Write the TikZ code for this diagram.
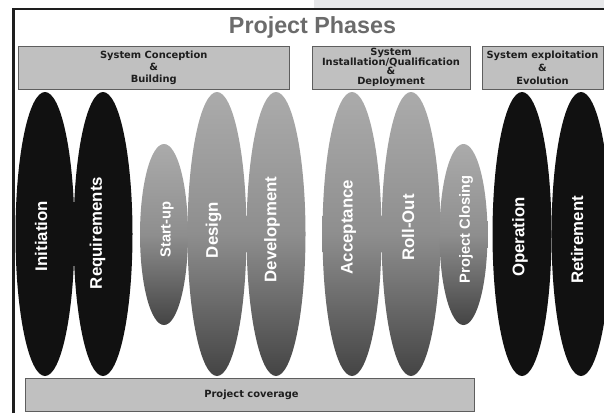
\documentclass[tikz,border=0pt]{standalone}
\usepackage{fontspec}
\setmainfont{Liberation Sans}
\newfontfamily\boxfont{DejaVu Sans}
\usetikzlibrary{shapes.geometric}
\definecolor{boxgray}{HTML}{C0C0C0}
\definecolor{boxedge}{HTML}{5E5E5E}
\definecolor{textdark}{HTML}{1E1E1E}
\definecolor{framecol}{HTML}{1E1E1E}
\definecolor{bandgray}{HTML}{E6E7E9}
\definecolor{titlegray}{HTML}{6B6B6B}
\definecolor{phdark}{HTML}{111111}
\definecolor{phtop}{HTML}{ABABAB}
\definecolor{phmid}{HTML}{8E8E8E}
\definecolor{phbot}{HTML}{444444}
\tikzset{
  bigph/.style={ellipse, inner sep=0pt, draw=none, minimum width=59pt, minimum height=284pt},
  darkph/.style={bigph, fill=phdark},
  grayph/.style={bigph, top color=phtop, bottom color=phbot, middle color=phmid},
  smallph/.style={ellipse, inner sep=0pt, draw=none, minimum width=48pt, minimum height=181pt,
    top color=phtop, bottom color=phbot, middle color=phmid},
  lbl/.style={rotate=90, text=white, inner sep=0pt, font=\bfseries\fontsize{16.8}{18}\selectfont},
  slbl/.style={lbl, font=\bfseries\fontsize{14.7}{16}\selectfont},
  hdr/.style={draw=boxedge, fill=boxgray, line width=1pt, inner sep=0pt, align=center,
    text=textdark, minimum height=43pt},
}
\begin{document}
\begin{tikzpicture}[x=1pt,y=-1pt]
\useasboundingbox (0,0) rectangle (604,413);
\clip (0,0) rectangle (604,413);
\fill[white] (0,0) rectangle (604,413);
\fill[bandgray] (314,0) rectangle (604,8);
\draw[framecol, line width=2.2pt] (13.5,413) -- (13.5,9.3) -- (610,9.3);

\node[text=titlegray, anchor=base, inner sep=0pt, font=\bfseries\fontsize{23.3}{26}\selectfont] (title) at (312.5,33) {Project Phases};

\node[hdr, minimum width=270.5pt, font=\boxfont\bfseries\fontsize{9.9}{12}\selectfont] (conc) at (153.75,67.5) {System Conception\\\&\\Building};
\node[hdr, minimum width=158pt, font=\boxfont\bfseries\fontsize{9.9}{9.7}\selectfont] (inst) at (391,67.5) {System\\Installation/Qualification\\\&\\Deployment};
\node[hdr, minimum width=121pt, font=\boxfont\bfseries\fontsize{9.9}{13}\selectfont] (expl) at (542.5,67.5) {System exploitation\\\&\\Evolution};
\node[hdr, minimum width=449pt, minimum height=33pt, font=\boxfont\bfseries\fontsize{9.9}{12}\selectfont] (cov) at (249.5,394.5) {\hspace*{4pt}Project coverage};

\node[darkph] (ini) at (45,234) {};
\node[darkph] (req) at (103,234) {};
\node[smallph] (stu) at (164,234.5) {};
\node[grayph] (des) at (217,234) {};
\node[grayph] (dev) at (276,234) {};
\node[grayph] (acc) at (352,234) {};
\node[grayph] (rol) at (411,234) {};
\node[smallph] (clo) at (463.5,234.5) {};
\node[darkph] (ope) at (522,234) {};
\node[darkph] (ret) at (581,234) {};

\node[lbl] (tini) at (41,236) {Initiation};
\node[lbl] (treq) at (97.5,233) {Requirements};
\node[slbl] (tstu) at (167,229.5) {Start-up};
\node[lbl] (tdes) at (213.5,230) {Design};
\node[lbl] (tdev) at (272,229.5) {Development};
\node[lbl] (tacc) at (348.5,227) {Acceptance};
\node[lbl] (trol) at (408,227.5) {Roll-Out};
\node[slbl] (tclo) at (466,229.5) {Project Closing};
\node[lbl] (tope) at (520,237) {Operation};
\node[lbl] (tret) at (577,240) {Retirement};
\end{tikzpicture}
\end{document}
